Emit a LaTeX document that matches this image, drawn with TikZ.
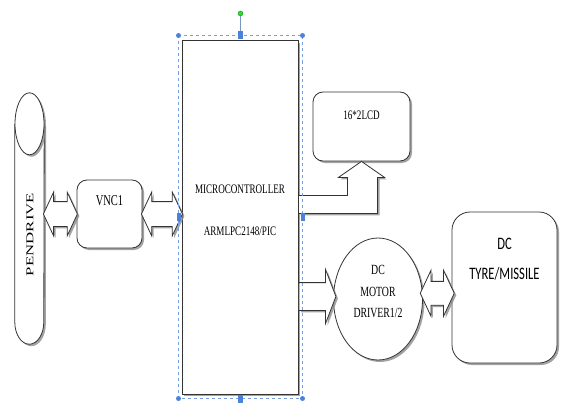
\documentclass[tikz,border=0pt]{standalone}
\usepackage{fontspec}
\newfontfamily\blockfont[FakeStretch=0.7]{Liberation Serif}
\newfontfamily\penfont[FakeStretch=1.6]{Liberation Serif}
\newfontfamily\tyrefont[FakeStretch=0.72]{Carlito}
\usepackage{tikz}
\usetikzlibrary{arrows.meta, positioning, shapes.geometric, shapes.arrows, shadows, calc}
\definecolor{selblue}{RGB}{120,160,225}
\definecolor{handleblue}{RGB}{75,130,215}
\definecolor{handlegreen}{RGB}{40,225,40}

\begin{document}
\begin{tikzpicture}[
        x=1pt, y=-1pt,
        shade/.style={drop shadow={shadow xshift=2pt, shadow yshift=-2pt, fill=black!45, opacity=0.8}},
        box/.style={rectangle, rounded corners=10pt, draw=black!80, line width=0.8pt,
                    fill=white, shade, inner sep=0pt},
        microbox/.style={rectangle, draw=black!80, line width=1pt, fill=white, shade, inner sep=0pt},
        blk/.style={draw=black!80, line width=0.8pt, fill=white, shade},
        darrow/.style={double arrow, blk, inner xsep=0pt, inner ysep=12pt,
                       double arrow head extend=9.5pt, double arrow tip angle=130},
        sarrow/.style={single arrow, blk, inner xsep=0pt, inner ysep=13.5pt,
                       single arrow head extend=13pt, single arrow tip angle=138},
        txt/.style={font=\blockfont\fontsize{13}{15}\selectfont, align=center, inner sep=0pt},
        handle/.style={fill=handleblue}
      ]
      \useasboundingbox (0,0) rectangle (562,404);

      % blocks
      \node[minimum width=29pt, minimum height=251pt, inner sep=0pt] (pen) at (29.5,218.5) {};
      \draw[blk] ($(pen.north west)+(0,31)$) -- ($(pen.south west)+(0,-22)$)
        arc[start angle=180, end angle=0, x radius=14.5, y radius=22]
        -- ($(pen.north east)+(0,31)$);
      \draw[blk] ($(pen.north)+(0,31)$) ellipse[x radius=14.5, y radius=31];
      \node[box, minimum width=65pt, minimum height=68pt] (vnc) at (109.5,214) {};
      \node[microbox, minimum width=116pt, minimum height=353pt] (micro) at (240,217.5) {};
      \node[box, minimum width=97pt, minimum height=69pt] (lcd) at (361.5,126.5) {};
      \node[ellipse, blk, minimum width=89pt, minimum height=122pt, inner sep=0pt] (motor) at (378,299) {};
      \node[box, rounded corners=18pt, minimum width=105pt, minimum height=151pt] (tyre) at (504.5,287.5) {};

      % texts
      \node[txt, rotate=90, font=\penfont\fontsize{10.5}{12}\selectfont] (pentxt) at (30,234.5) {PENDRIVE};
      \node[txt, font=\blockfont\fontsize{15}{17}\selectfont] (vnctxt) at ($(vnc.north)+(0,21)$) {VNC1};
      \node[txt] (microtxt) at ($(micro.north)+(0,169.5)$) {MICROCONTROLLER\\[27pt]ARMLPC2148/PIC};
      \node[txt] (lcdtxt) at ($(lcd.north)+(0,23.5)$) {16*2LCD};
      \node[txt, font=\blockfont\fontsize{14}{21.5}\selectfont] (motortxt) at ($(motor.center)+(0,-7.5)$) {DC\\MOTOR\\DRIVER1/2};
      \node[txt, font=\tyrefont\fontsize{17.5}{30}\selectfont] (tyretxt) at ($(tyre.north)+(0,48)$) {DC\\TYRE/MISSILE};

      % block arrows
      \node[darrow, minimum height=34pt] (pv) at ($(pen.east |- vnc.west)!0.5!(vnc.west)$) {};
      \node[darrow, minimum height=41pt] (vm) at ($(vnc.east)!0.5!(micro.west |- vnc.east)$) {};
      \node[sarrow, minimum height=37pt, anchor=tail] (md) at ($(micro.east |- motor.west)+(0,-2.5)$) {};
      \node[darrow, inner ysep=11.5pt, double arrow head extend=11pt, minimum height=34pt] (dt)
        at ($(motor.east)!0.5!(tyre.west)$) {};
      \coordinate (ltop) at ($(lcd.south)+(0,34)$);
      \coordinate (lbot) at ($(lcd.south)+(0,52)$);
      \draw[blk] (micro.east |- ltop) -- ($(lcd.south)+(-14,34)$) -- ($(lcd.south)+(-14,16)$)
        -- ($(lcd.south)+(-23,16)$) -- (lcd.south) -- ($(lcd.south)+(23,16)$)
        -- ($(lcd.south)+(16,16)$) -- ($(lcd.south)+(16,52)$) -- (micro.east |- lbot) -- cycle;

      % selection frame
      \coordinate (selnw) at ($(micro.north west)+(-3,-5)$);
      \coordinate (selse) at ($(micro.south east)+(4,4)$);
      \coordinate (selne) at (selnw -| selse);
      \coordinate (selsw) at (selnw |- selse);
      \draw[selblue, dashed, line width=0.6pt] (selnw) rectangle (selse);
      \coordinate (seln) at ($(selnw)!0.5!(selne)$);
      \coordinate (sels) at ($(selsw)!0.5!(selse)$);
      \coordinate (selw) at ($(selnw)!0.5!(selsw)$);
      \coordinate (sele) at ($(selne)!0.5!(selse)$);
      \coordinate (rot) at ($(seln)+(0,-22)$);
      \draw[selblue!70!gray, line width=1pt] (seln) -- (rot);
      \foreach \c in {selnw, selne, selse, selsw}
        \fill[handle] (\c) circle[radius=2.5pt];
      \foreach \c in {seln, sels}
        \fill[handle] ($(\c)+(-2.5,-4)$) rectangle ($(\c)+(2.5,4)$);
      \foreach \c in {selw, sele}
        \fill[handle] ($(\c)+(-2,-4)$) rectangle ($(\c)+(2,4)$);
      \fill[handlegreen, draw=green!50!black, line width=0.3pt] (rot) circle[radius=2.5pt];
    \end{tikzpicture}
\end{document}
